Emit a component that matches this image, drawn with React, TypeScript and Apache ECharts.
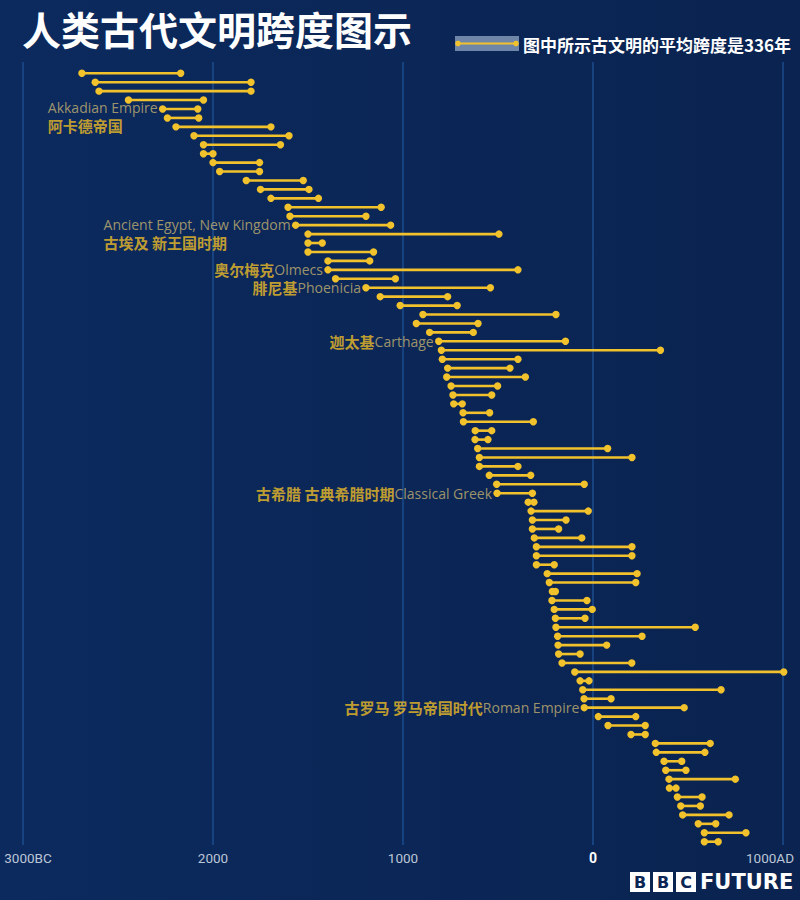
import React, { useEffect, useRef } from "react";
import * as echarts from "echarts";

// Start / end year of each civilisation (negative = BC), top to bottom
const startYears = [
  -2690, -2620, -2600, -2445, -2265, -2240, -2195, -2100, -2050, -2050,
  -2000, -1965, -1825, -1750, -1695, -1605, -1595, -1565, -1500, -1500,
  -1500, -1395, -1395, -1355, -1195, -1120, -1015, -895, -930, -860,
  -812, -798, -793, -765, -770, -747, -737, -733, -684, -682,
  -620, -621, -607, -598, -598, -546, -507, -505, -341, -326,
  -319, -319, -309, -298, -298, -298, -241, -230, -214, -216,
  -204, -198, -195, -186, -184, -181, -163, -96, -68, -54,
  -47, -46, 28, 79, 200, 328, 333, 374, 383, 400,
  402, 444, 462, 472, 554, 586, 586,
];
const endYears = [
  -2170, -1800, -1800, -2050, -2080, -2075, -1695, -1600, -1645, -2000,
  -1755, -1755, -1525, -1495, -1445, -1115, -1195, -1065, -495, -1425,
  -1155, -1175, -395, -1040, -540, -765, -715, -195, -605, -630,
  -145, 355, -395, -437, -356, -502, -533, -688, -544, -314,
  -533, -553, 77, 205, -395, -328, -46, -319, -311, -25,
  -142, -181, -59, 205, 205, -204, 232, 225, -198, -32,
  -4, -42, 538, 258, 72, -68, 204, 1004, -21, 674,
  95, 480, 225, 275, 275, 617, 589, 467, 489, 749,
  437, 574, 565, 716, 646, 805, 659,
];

// Annotated rows (0-based index into the arrays above)
const annotationRows = [4, 17, 22, 24, 30, 47, 71];
const annotationEn = ["Akkadian Empire", "Ancient Egypt, New Kingdom", "Olmecs", "Phoenicia", "Carthage", "Classical Greek", "Roman Empire"];
const annotationCn = ["阿卡德帝国", "古埃及 新王国时期", "奥尔梅克", "腓尼基", "迦太基", "古希腊 古典希腊时期", "古罗马 罗马帝国时代"];
const annotationTwoLine = [true, true, false, false, false, false, false];

const xTickValues = [-3000, -2000, -1000, 0, 1000];
const xTickLabels = ["3000BC", "2000", "1000", "0", "1000AD"];

const titleText = "人类古代文明跨度图示";
const legendText = "图中所示古文明的平均跨度是336年";

const YELLOW = "#f2c22c";
const CJK = "'Noto Sans CJK SC', 'Noto Sans', sans-serif";

export default function App() {
  const ref = useRef<HTMLDivElement>(null);

  useEffect(() => {
    document.body.style.margin = "0";
    const chart = echarts.init(ref.current!, undefined, { renderer: "svg" });

    const spans = startYears.map((s, i) => [s, endYears[i], i]);

    const annData = annotationRows.map((row, k) => ({
      value: [startYears[row], row],
      label: {
        show: true,
        position: "left",
        distance: 5,
        offset: annotationTwoLine[k] ? [0, 8] : [0, 0],
        formatter: annotationTwoLine[k]
          ? `{en|${annotationEn[k]}}\n{cn|${annotationCn[k]}}`
          : `{cn|${annotationCn[k]}}{en|${annotationEn[k]}}`,
        rich: {
          en: { fontFamily: "'Open Sans', Lato, sans-serif", fontSize: 14, color: "#c4b270", align: "left", lineHeight: 18 },
          cn: { fontFamily: CJK, fontSize: 15, fontWeight: "bold", color: "#efbe26", align: "left", lineHeight: 18 },
        },
      },
    }));

    chart.setOption({
      animation: false,
      backgroundColor: new echarts.graphic.LinearGradient(0, 0, 1, 0, [
        { offset: 0, color: "#0c2a5e" },
        { offset: 1, color: "#0a2350" },
      ]),
      title: {
        text: titleText,
        left: 17,
        top: 3,
        textStyle: { color: "#ffffff", fontSize: 39, fontWeight: "bold", fontFamily: CJK },
      },
      grid: { left: 23, right: 17, top: 62, bottom: 55, outerBoundsMode: "none", containLabel: false },
      xAxis: {
        type: "value",
        min: -3000,
        max: 1000,
        interval: 1000,
        axisLine: { show: false },
        axisTick: { show: false },
        splitLine: { show: true, lineStyle: { color: "#1d4c8e", width: 1.5 } },
        axisLabel: {
          margin: 6,
          formatter: (v: number) => {
            const idx = xTickValues.indexOf(v);
            const t = idx >= 0 ? xTickLabels[idx] : "";
            if (v === 0) return `{zero|${t}}`;
            if (v === 1000) return `{max|${t}}`;
            if (v === -3000) return `{min|${t}}`;
            return `{n|${t}}`;
          },
          rich: {
            n: { color: "#bcc6d6", fontSize: 13.5, fontFamily: "Roboto, sans-serif" },
            min: { color: "#bcc6d6", fontSize: 13.5, fontFamily: "Roboto, sans-serif", padding: [0, 0, 0, 10] },
            zero: { color: "#ffffff", fontSize: 14, fontWeight: "bold", fontFamily: "Roboto, sans-serif" },
            max: { color: "#bcc6d6", fontSize: 13.5, fontFamily: "Roboto, sans-serif", padding: [0, 26, 0, 0] },
          },
        },
      },
      yAxis: {
        type: "value",
        inverse: true,
        min: -1.26,
        max: 86.37,
        show: false,
        splitLine: { show: false },
      },
      series: [
        {
          type: "custom",
          name: "spans",
          data: spans,
          encode: { x: [0, 1], y: 2 },
          renderItem: (params: any, api: any) => {
            const s = api.coord([api.value(0), api.value(2)]);
            const e = api.coord([api.value(1), api.value(2)]);
            return {
              type: "group",
              children: [
                { type: "line", shape: { x1: s[0], y1: s[1], x2: e[0], y2: e[1] }, style: { stroke: YELLOW, lineWidth: 2.6 } },
                { type: "circle", shape: { cx: s[0], cy: s[1], r: 3.7 }, style: { fill: YELLOW } },
                { type: "circle", shape: { cx: e[0], cy: e[1], r: 3.7 }, style: { fill: YELLOW } },
              ],
            };
          },
        },
        {
          type: "scatter",
          name: "labels",
          symbolSize: 0,
          silent: true,
          data: annData,
        },
      ],
      graphic: [
        // legend
        { type: "rect", left: 455, top: 36, shape: { width: 64, height: 15 }, style: { fill: "#6f86a8" } },
        { type: "line", shape: { x1: 458, y1: 43.5, x2: 516, y2: 43.5 }, style: { stroke: YELLOW, lineWidth: 2 } },
        { type: "circle", shape: { cx: 458, cy: 43.5, r: 2.8 }, style: { fill: YELLOW } },
        { type: "circle", shape: { cx: 516, cy: 43.5, r: 2.8 }, style: { fill: YELLOW } },
        {
          type: "text",
          x: 523,
          y: 44,
          style: { text: legendText, fill: "#ffffff", font: `bold 17px ${CJK}`, verticalAlign: "middle" },
        },
        // BBC FUTURE logo
        { type: "rect", left: 630, top: 872, shape: { width: 20, height: 20 }, style: { fill: "#ffffff" } },
        { type: "rect", left: 653, top: 872, shape: { width: 20, height: 20 }, style: { fill: "#ffffff" } },
        { type: "rect", left: 676, top: 872, shape: { width: 20, height: 20 }, style: { fill: "#ffffff" } },
        { type: "text", x: 640, y: 882, style: { text: "B", fill: "#0b2654", font: "bold 16px 'DejaVu Sans', sans-serif", align: "center", verticalAlign: "middle" } },
        { type: "text", x: 663, y: 882, style: { text: "B", fill: "#0b2654", font: "bold 16px 'DejaVu Sans', sans-serif", align: "center", verticalAlign: "middle" } },
        { type: "text", x: 686, y: 882, style: { text: "C", fill: "#0b2654", font: "bold 16px 'DejaVu Sans', sans-serif", align: "center", verticalAlign: "middle" } },
        { type: "text", x: 700, y: 882, style: { text: "FUTURE", fill: "#ffffff", font: "bold 21px 'DejaVu Sans', sans-serif", verticalAlign: "middle" } },
      ],
    });

    return () => chart.dispose();
  }, []);

  return <div ref={ref} style={{ width: 800, height: 900 }} />;
}
